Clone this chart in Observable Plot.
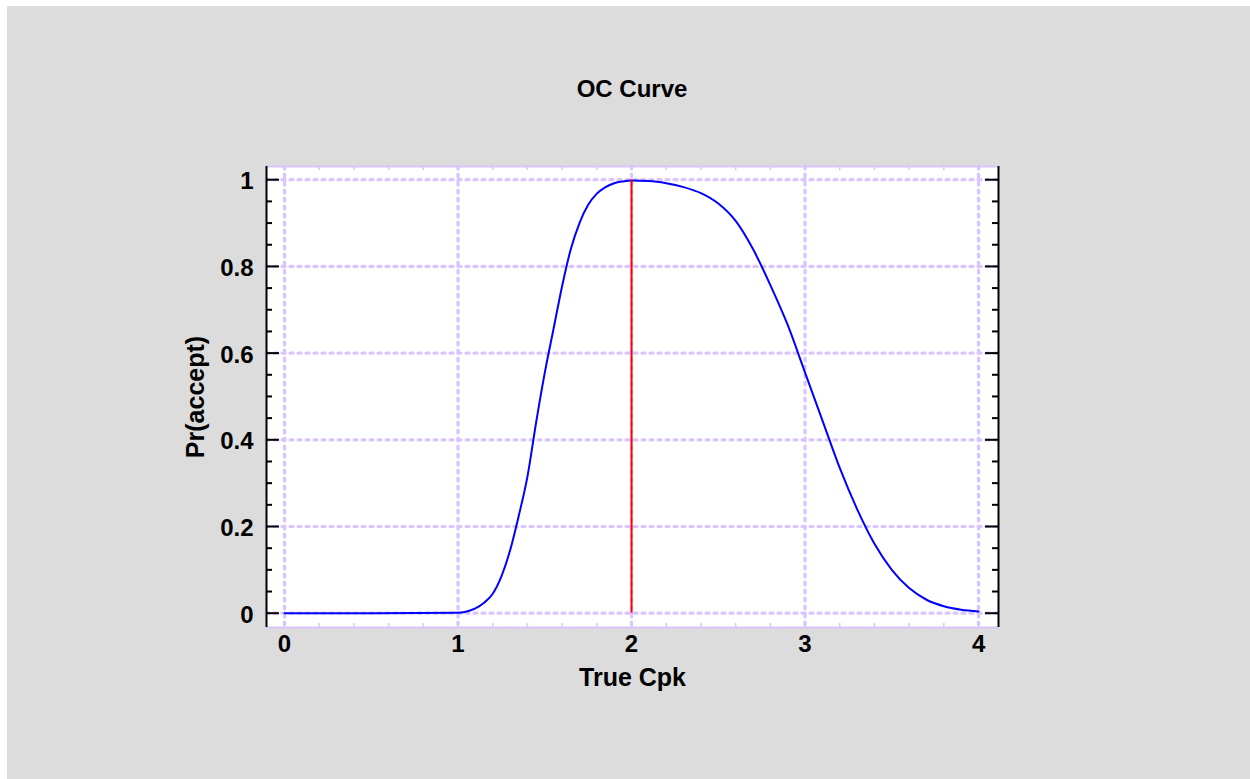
<!DOCTYPE html>
<html>
<head>
<meta charset="utf-8">
<script src="https://cdn.jsdelivr.net/npm/d3@7"></script>
<script src="https://cdn.jsdelivr.net/npm/@observablehq/plot@0.6"></script>
<style>
  html, body { margin: 0; padding: 0; background: #ffffff; }
  #bg { position: absolute; left: 7px; top: 6px; width: 1243px; height: 773px; background: #dcdcdc; }
  #title { position: absolute; left: 266px; width: 732px; top: 74px; line-height: 30px; text-align: center;
           font-family: "Liberation Sans", Arial, sans-serif; font-weight: bold; font-size: 24px; color: #000; }
  #chart { position: absolute; left: 0; top: 0; }
</style>
</head>
<body>
<div id="bg"></div>
<div id="title">OC Curve</div>
<div id="chart"></div>
<script>
// ---- data ----
const cpk = [0, 0.5, 1.0, 1.05, 1.1, 1.15, 1.2, 1.25, 1.3, 1.35, 1.4, 1.45, 1.5, 1.55, 1.6, 1.65, 1.7, 1.75, 1.8, 1.85, 1.9, 1.95, 2.0,
             2.1, 2.2, 2.3, 2.4, 2.5, 2.6, 2.7, 2.8, 2.9, 3.0, 3.1, 3.2, 3.3, 3.4, 3.5, 3.6, 3.7, 3.8, 3.9, 4.0];
const prAccept = [0, 0, 0.001, 0.004, 0.011, 0.024, 0.045, 0.085, 0.145, 0.225, 0.315, 0.44, 0.555, 0.655, 0.755, 0.84, 0.9, 0.942, 0.968, 0.983, 0.992, 0.996, 0.998,
                  0.997, 0.992, 0.983, 0.969, 0.945, 0.905, 0.84, 0.757, 0.665, 0.555, 0.445, 0.335, 0.24, 0.16, 0.1, 0.058, 0.031, 0.016, 0.008, 0.004];
const refCpk = [2];
const xTicks = [0, 1, 2, 3, 4];
const xTickLabels = ["0", "1", "2", "3", "4"];
const xMinor = [0.2, 0.4, 0.6, 0.8, 1.2, 1.4, 1.6, 1.8, 2.2, 2.4, 2.6, 2.8, 3.2, 3.4, 3.6, 3.8];
const yTicks = [0, 0.2, 0.4, 0.6, 0.8, 1];
const yTickLabels = ["0", "0.2", "0.4", "0.6", "0.8", "1"];
const yMinor = [0.05, 0.1, 0.15, 0.25, 0.3, 0.35, 0.45, 0.5, 0.55, 0.65, 0.7, 0.75, 0.85, 0.9, 0.95];
const xLabel = "True Cpk";
const yLabel = "Pr(accept)";

// ---- layout ----
const W = 1250, H = 779, mL = 266, mR = 252, mT = 166, mB = 152;
const xDomain = [-0.104, 4.115];
const yDomain = [-0.033, 1.0305];
const pxX = (xDomain[1] - xDomain[0]) / (W - mL - mR);
const pxY = (yDomain[1] - yDomain[0]) / (H - mT - mB);
const lav = "#dac4ff";
const font = "'Liberation Sans', Arial, sans-serif";

const curve = cpk.map((c, i) => ({cpk: c, p: prAccept[i]}));
const yt = yTicks.map((v, i) => ({v, label: yTickLabels[i]}));
const xt = xTicks.map((v, i) => ({v, label: xTickLabels[i]}));

const chart = Plot.plot({
  width: W, height: H,
  marginLeft: mL, marginRight: mR, marginTop: mT, marginBottom: mB,
  style: {background: "transparent", fontFamily: font},
  x: {domain: xDomain, axis: null},
  y: {domain: yDomain, axis: null},
  marks: [
    Plot.frame({fill: "white", stroke: null}),
    // grid
    Plot.ruleY(yTicks, {y: d => d, stroke: lav, strokeWidth: 3.2, strokeDasharray: "3,5", strokeLinecap: "round"}),
    Plot.ruleX(xTicks, {x: d => d, stroke: lav, strokeWidth: 3.2, strokeDasharray: "3,5", strokeLinecap: "round"}),
    // top/bottom borders
    Plot.ruleY([yDomain[0], yDomain[1]], {y: d => d, stroke: lav, strokeWidth: 2}),
    Plot.ruleX(xMinor, {x: d => d, y1: yDomain[0], y2: yDomain[0] + 4 * pxY, stroke: lav, strokeWidth: 1.5}),
    Plot.ruleX(xMinor, {x: d => d, y1: yDomain[1] - 4 * pxY, y2: yDomain[1], stroke: lav, strokeWidth: 1.5}),
    // left/right axis lines
    Plot.ruleX([xDomain[0], xDomain[1]], {x: d => d, stroke: "black", strokeWidth: 2}),
    // y ticks
    Plot.ruleY(yTicks, {y: d => d, x1: xDomain[0], x2: xDomain[0] + 13 * pxX, stroke: "black", strokeWidth: 2}),
    Plot.ruleY(yTicks, {y: d => d, x1: xDomain[1] - 13 * pxX, x2: xDomain[1], stroke: "black", strokeWidth: 2}),
    Plot.ruleY(yMinor, {y: d => d, x1: xDomain[0], x2: xDomain[0] + 6 * pxX, stroke: "black", strokeWidth: 2}),
    Plot.ruleY(yMinor, {y: d => d, x1: xDomain[1] - 6 * pxX, x2: xDomain[1], stroke: "black", strokeWidth: 2}),
    // data
    Plot.line(curve, {x: "cpk", y: "p", stroke: "#0000ff", strokeWidth: 2, curve: "monotone-x"}),
    Plot.ruleX(refCpk, {x: d => d, y1: 0, y2: 1, stroke: "#ff0000", strokeWidth: 2}),
    // tick labels
    Plot.text(yt, {y: "v", text: "label", frameAnchor: "left", textAnchor: "end", dx: -13, dy: 2, fontSize: 24, fontWeight: "bold", fill: "black"}),
    Plot.text(xt, {x: "v", text: "label", frameAnchor: "bottom", dy: 24, fontSize: 24, fontWeight: "bold", fill: "black"}),
    // axis labels
    Plot.text([xLabel], {text: d => d, frameAnchor: "bottom", textAnchor: "middle", dy: 58, fontSize: 25, fontWeight: "bold", fill: "black"}),
    Plot.text([yLabel], {text: d => d, frameAnchor: "left", textAnchor: "middle", dx: -71, rotate: -90, fontSize: 25, fontWeight: "bold", fill: "black"})
  ]
});
document.getElementById("chart").appendChild(chart);
</script>
</body>
</html>
